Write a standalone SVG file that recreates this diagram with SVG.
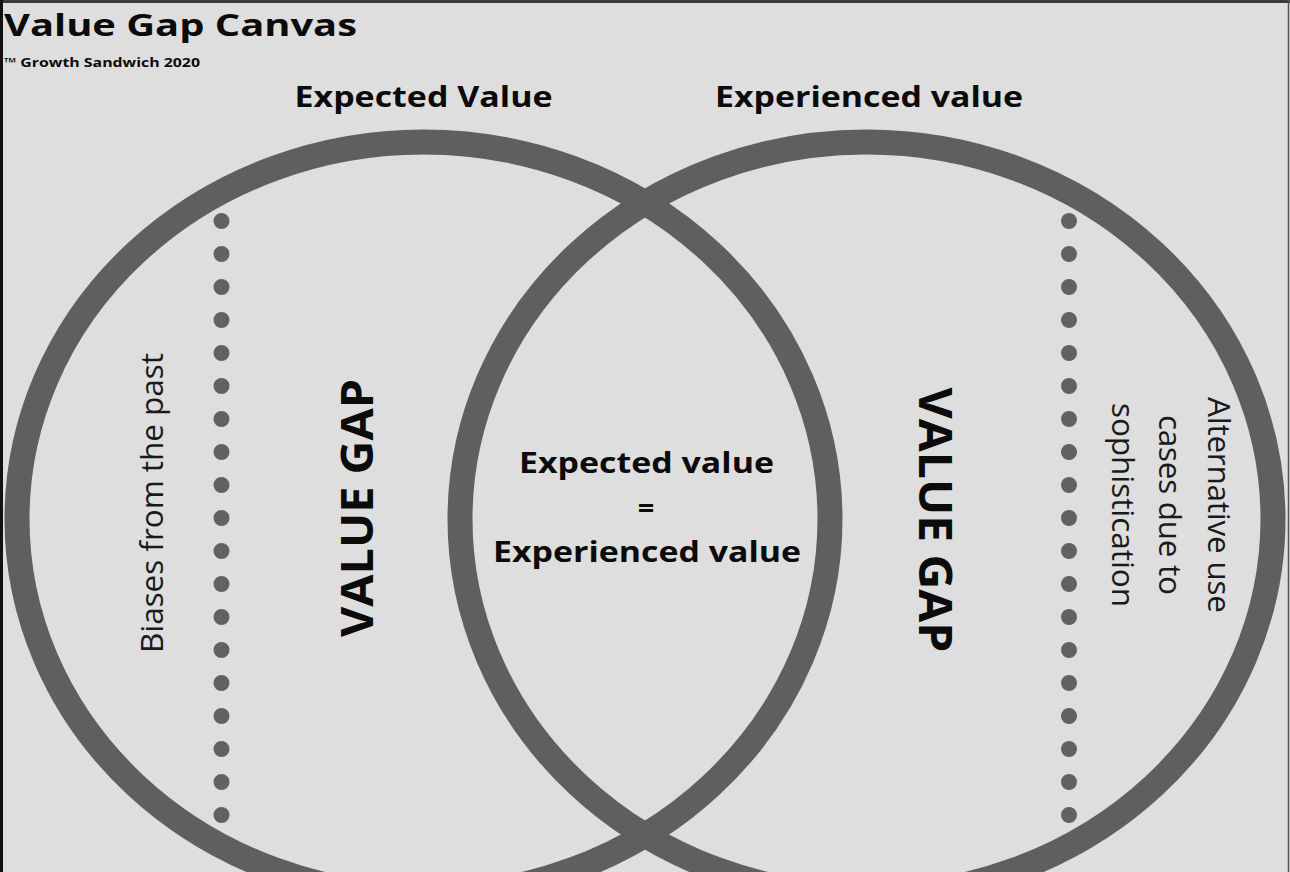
<svg xmlns="http://www.w3.org/2000/svg" width="1290" height="872" viewBox="0 0 1290 872">
<defs>
<style>
.bg{fill:#dedede}
.ring{fill:none;stroke:#5f5f5f;stroke-width:25}
.dots{fill:none;stroke:#616161;stroke-width:16;stroke-linecap:round;stroke-dasharray:0 33}
.b{font-family:"Open Sans","Liberation Sans",sans-serif;font-weight:700;fill:#0b0b0b}
.r{font-family:"Open Sans","Liberation Sans",sans-serif;font-weight:400;fill:#1a1a1a}
</style>
</defs>
<rect class="bg" x="0" y="0" width="1290" height="872"/>
<line x1="0" y1="1.5" x2="1290" y2="1.5" stroke="#3a3a3a" stroke-width="3"/>
<line x1="1.5" y1="0" x2="1.5" y2="872" stroke="#111" stroke-width="3"/>
<line x1="1288.5" y1="0" x2="1288.5" y2="872" stroke="#555" stroke-width="1.5"/>

<g id="title">
<text class="b" x="4" y="36" font-size="31" textLength="353" lengthAdjust="spacingAndGlyphs">Value Gap Canvas</text>
<text class="b" x="4" y="67" font-size="12.5" textLength="196" lengthAdjust="spacingAndGlyphs" fill="#2a2a2a">™ Growth Sandwich 2020</text>
</g>

<g id="expected-circle">
<ellipse class="ring" cx="423.5" cy="519" rx="406.5" ry="377"/>
<text class="b" x="423.5" y="107" font-size="29" text-anchor="middle" textLength="258" lengthAdjust="spacingAndGlyphs">Expected Value</text>
</g>

<g id="experienced-circle">
<ellipse class="ring" cx="866.5" cy="519" rx="406.5" ry="377"/>
<text class="b" x="869" y="107" font-size="29" text-anchor="middle" textLength="308" lengthAdjust="spacingAndGlyphs">Experienced value</text>
</g>

<g id="connectors">
<line class="dots" x1="221.5" y1="221" x2="221.5" y2="816"/>
<line class="dots" x1="1069" y1="221" x2="1069" y2="816"/>
</g>

<g id="biases">
<text class="r" transform="translate(163,503) rotate(-90)" font-size="31.5" text-anchor="middle" textLength="300">Biases from the past</text>
</g>

<g id="value-gap-left">
<text class="b" transform="translate(373,508) rotate(-90)" font-size="44" text-anchor="middle" textLength="258" lengthAdjust="spacingAndGlyphs">VALUE GAP</text>
</g>

<g id="overlap">
<text class="b" x="646.5" y="473" font-size="29" text-anchor="middle" textLength="255" lengthAdjust="spacingAndGlyphs">Expected value</text>
<text class="b" x="646" y="518" font-size="29" text-anchor="middle">=</text>
<text class="b" x="647" y="562" font-size="29" text-anchor="middle" textLength="308" lengthAdjust="spacingAndGlyphs">Experienced value</text>
</g>

<g id="value-gap-right">
<text class="b" transform="translate(919,520) rotate(90)" font-size="47" text-anchor="middle" textLength="265" lengthAdjust="spacingAndGlyphs">VALUE GAP</text>
</g>

<g id="alternative">
<text class="r" transform="translate(1208,505) rotate(90)" font-size="31.5" text-anchor="middle" textLength="216">Alternative use</text>
<text class="r" transform="translate(1159,505) rotate(90)" font-size="31.5" text-anchor="middle" textLength="180">cases due to</text>
<text class="r" transform="translate(1112,505) rotate(90)" font-size="31.5" text-anchor="middle" textLength="204">sophistication</text>
</g>
</svg>
